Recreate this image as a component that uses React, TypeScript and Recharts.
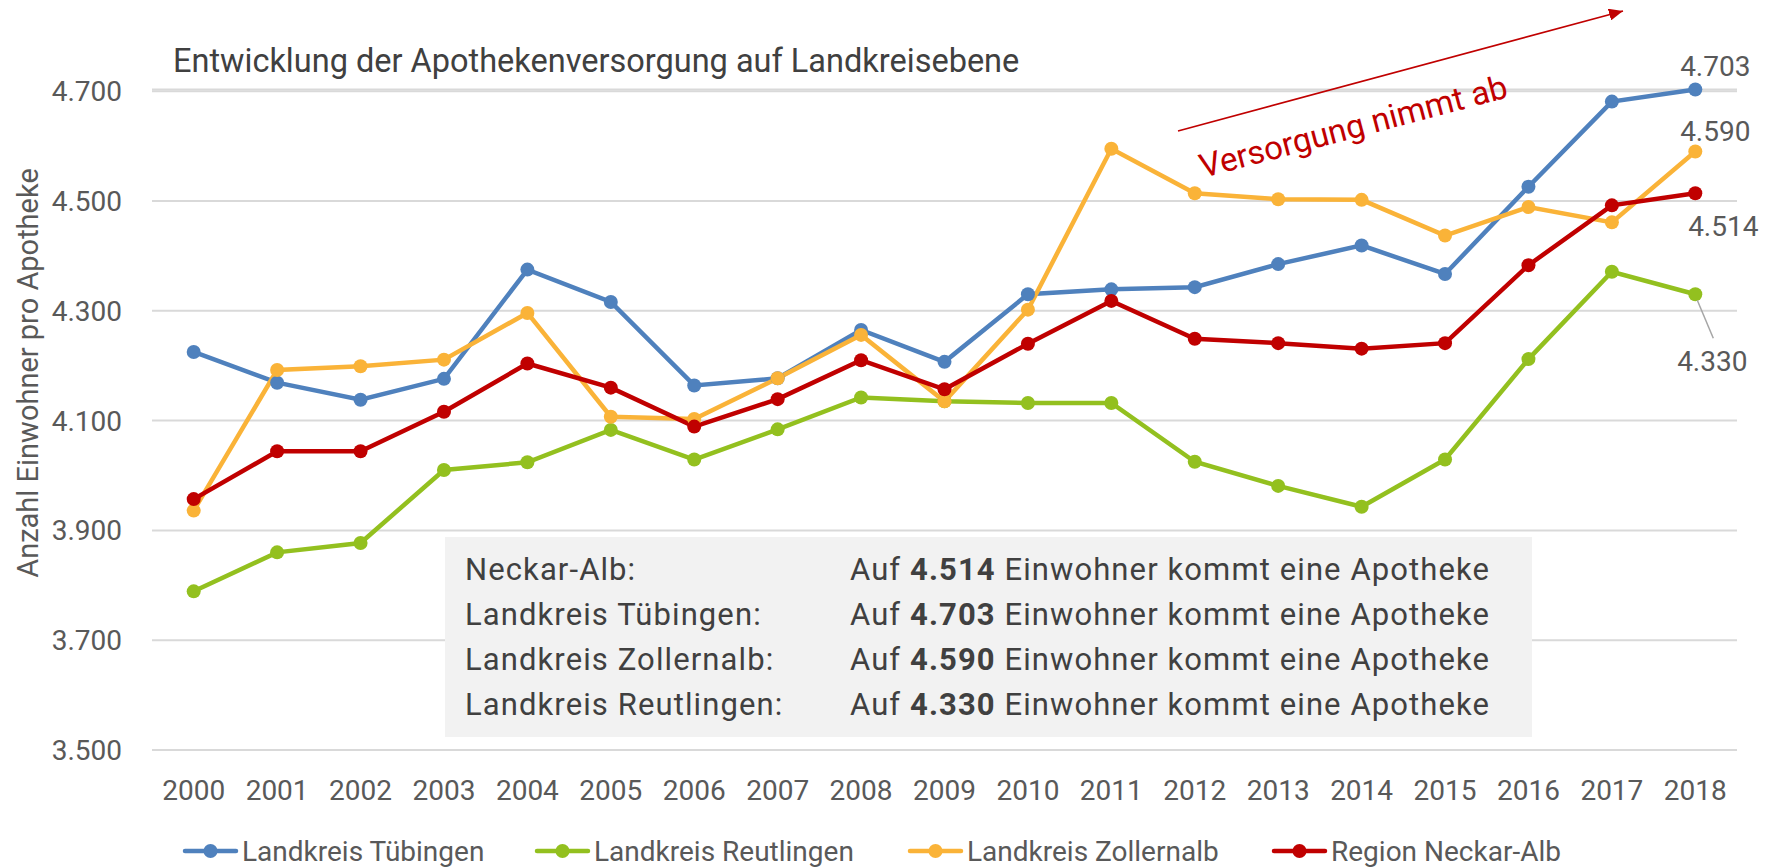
import React from "react";
import { LineChart, Line, XAxis, YAxis, CartesianGrid } from "recharts";

const years = ["2000", "2001", "2002", "2003", "2004", "2005", "2006", "2007", "2008", "2009", "2010", "2011", "2012", "2013", "2014", "2015", "2016", "2017", "2018"];

const tuebingen = [4225, 4169, 4138, 4176, 4375, 4316, 4164, 4177, 4265, 4207, 4330, 4339, 4343, 4385, 4419, 4367, 4526, 4681, 4703];
const reutlingen = [3789, 3860, 3877, 4010, 4024, 4083, 4029, 4084, 4142, 4135, 4132, 4132, 4025, 3981, 3943, 4029, 4212, 4371, 4330];
const zollernalb = [3936, 4192, 4199, 4211, 4296, 4107, 4103, 4177, 4256, 4135, 4302, 4595, 4514, 4503, 4502, 4437, 4489, 4461, 4590];
const neckarAlb = [3957, 4044, 4044, 4116, 4204, 4160, 4089, 4139, 4210, 4157, 4240, 4318, 4249, 4241, 4231, 4241, 4383, 4492, 4514];

const yTicks = [3500, 3700, 3900, 4100, 4300, 4500, 4700];

const summaryRows = [
    { name: "Neckar-Alb:", value: 4514 },
    { name: "Landkreis Tübingen:", value: 4703 },
    { name: "Landkreis Zollernalb:", value: 4590 },
    { name: "Landkreis Reutlingen:", value: 4330 },
];

const FONT = "Roboto, sans-serif";
const GREY = "#595959";
const DARK = "#404040";

// drawing order = Excel series order, red ends up on top
// legendX: where each legend entry starts (Excel spaces them unevenly)
const series = [
    { key: "tuebingen", name: "Landkreis Tübingen", color: "#4f81bd", values: tuebingen, dx: 20, dy: -23, leader: false, legendX: 183 },
    { key: "reutlingen", name: "Landkreis Reutlingen", color: "#93c01f", values: reutlingen, dx: 17, dy: 67, leader: true, legendX: 535 },
    { key: "zollernalb", name: "Landkreis Zollernalb", color: "#fab338", values: zollernalb, dx: 20, dy: -20, leader: false, legendX: 908 },
    { key: "neckarAlb", name: "Region Neckar-Alb", color: "#c00000", values: neckarAlb, dx: 28, dy: 33, leader: false, legendX: 1272 },
];

const chartData = years.map((year, i) => {
    const row: Record<string, string | number> = { year };
    series.forEach((s) => (row[s.key] = s.values[i]));
    return row;
});

const fmt = (v: number) => `${Math.floor(v / 1000)}.${String(v % 1000).padStart(3, "0")}`;

const lastLabel = (dx: number, dy: number, leader: boolean) => (props: any) => {
    const { x, y, index, value } = props;
    if (index !== years.length - 1) return null;
    return (
        <g key={`lbl-${index}`}>
            {leader && <line x1={x + 2} y1={y + 6} x2={x + 18} y2={y + 44} stroke="#a6a6a6" strokeWidth={1.5} />}
            <text x={x + dx} y={y + dy} dy="0.355em" textAnchor="middle" fontSize={28} fill={GREY} fontFamily={FONT}>
                {fmt(value)}
            </text>
        </g>
    );
};

export default function App() {
    return (
        <div style={{ position: "absolute", left: 0, top: 0, width: 1774, height: 868, background: "#fff", fontFamily: FONT }}>
            <LineChart width={1774} height={868} data={chartData} margin={{ top: 89.5, right: 37, bottom: 58, left: 0 }}>
                <CartesianGrid vertical={false} stroke="#d9d9d9" strokeWidth={2} />
                <XAxis
                    dataKey="year"
                    height={60}
                    interval={0}
                    axisLine={false}
                    tickLine={false}
                    tickSize={0}
                    tickMargin={30}
                    padding={{ left: 41.7, right: 41.7 }}
                    tick={{ fontSize: 28, fill: GREY, fontFamily: FONT }}
                />
                <YAxis
                    type="number"
                    domain={[3500, 4700]}
                    ticks={yTicks}
                    interval={0}
                    width={152}
                    axisLine={false}
                    tickLine={false}
                    tickSize={0}
                    tickMargin={30}
                    tickFormatter={fmt}
                    tick={{ fontSize: 28, fill: GREY, fontFamily: FONT }}
                />
                {series.map((s) => (
                    <Line
                        key={s.key}
                        dataKey={s.key}
                        name={s.name}
                        stroke={s.color}
                        strokeWidth={4.5}
                        dot={{ r: 7, fill: s.color, stroke: "none" }}
                        activeDot={false}
                        isAnimationActive={false}
                        label={lastLabel(s.dx, s.dy, s.leader)}
                    />
                ))}
            </LineChart>

            <svg width={1774} height={868} style={{ position: "absolute", left: 0, top: 0, pointerEvents: "none" }}>
                <defs>
                    <marker id="arrow" viewBox="0 0 14 12" refX={14} refY={6} markerWidth={14} markerHeight={12} markerUnits="userSpaceOnUse" orient="auto">
                        <path d="M0,0 L14,6 L0,12 Z" fill="#c00000" />
                    </marker>
                </defs>
                <text x={173} y={71.5} fontSize={32.5} fill={DARK} fontFamily={FONT}>
                    Entwicklung der Apothekenversorgung auf Landkreisebene
                </text>
                <text x={38} y={373} transform="rotate(-90 38 373)" textAnchor="middle" fontSize={29} fill={GREY} fontFamily={FONT}>
                    Anzahl Einwohner pro Apotheke
                </text>
                <line x1={1178} y1={131} x2={1623} y2={11} stroke="#c00000" strokeWidth={1.6} markerEnd="url(#arrow)" />
                <text x={1203} y={178} transform="rotate(-14.8 1203 178)" fontSize={33} fill="#c00000" fontFamily={FONT}>
                    Versorgung nimmt ab
                </text>

                {series.map((s) => (
                    <g key={s.key}>
                        <line x1={s.legendX + 2} y1={851} x2={s.legendX + 53} y2={851} stroke={s.color} strokeWidth={4.5} strokeLinecap="round" />
                        <circle cx={s.legendX + 27.5} cy={851} r={7} fill={s.color} />
                        <text x={s.legendX + 59} y={851} dy="0.355em" fontSize={28} fill={GREY} fontFamily={FONT}>
                            {s.name}
                        </text>
                    </g>
                ))}
            </svg>

            <div style={{ position: "absolute", left: 445, top: 537, width: 1087, height: 200, background: "#f2f2f2", paddingTop: 9.5, boxSizing: "border-box" }}>
                {summaryRows.map((r) => (
                    <div key={r.name} style={{ position: "relative", height: 45, lineHeight: "45px", fontSize: 31, color: DARK, letterSpacing: 1.1, whiteSpace: "nowrap" }}>
                        <span style={{ position: "absolute", left: 20 }}>{r.name}</span>
                        <span style={{ position: "absolute", left: 405 }}>
                            Auf <b>{fmt(r.value)}</b> Einwohner kommt eine Apotheke
                        </span>
                    </div>
                ))}
            </div>
        </div>
    );
}
